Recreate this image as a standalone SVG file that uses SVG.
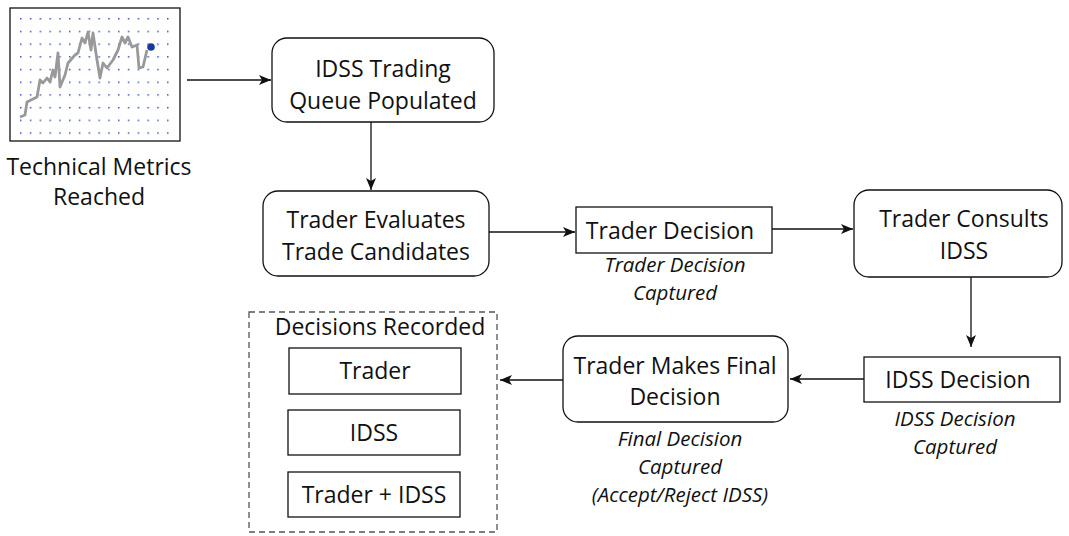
<svg xmlns="http://www.w3.org/2000/svg" width="1069" height="536" viewBox="0 0 1069 536">
<style>
text{font-family:"Open Sans","Liberation Sans",sans-serif;fill:#111;text-anchor:middle}
.t{font-size:23px}
.i{font-size:20.5px;font-style:italic}
.box{fill:#fff;stroke:#111;stroke-width:1.3}
.c{stroke:#111;stroke-width:1.3;fill:none;marker-end:url(#ah)}
</style>
<defs>
<marker id="ah" viewBox="0 0 12 10" refX="12" refY="5" markerWidth="12" markerHeight="10" markerUnits="userSpaceOnUse" orient="auto">
<path d="M0,0 L12,5 L0,10 L3,5 Z" fill="#111"/>
</marker>
<pattern id="dots" x="20" y="18" width="9.8" height="12.7" patternUnits="userSpaceOnUse">
<rect x="0" y="0" width="1.5" height="1.5" fill="#3355bb"/>
</pattern>
</defs>
<g id="chart">
<rect x="10" y="8" width="170" height="133" fill="#fff" stroke="#111" stroke-width="1.3"/>
<rect x="19" y="17" width="155" height="122" fill="url(#dots)"/>
<polyline fill="none" stroke="#999" stroke-width="2.8" stroke-linejoin="round" points="20,117 25,115 27,102 37,97 40,80 43,83 47,78 50,82 53,70 55,77 58,53 60,87 65,75 68,63 75,55 78,53 82,38 85,43 88,32 91,50 93,33 97,60 100,78 103,63 107,68 113,60 118,50 122,37 125,43 128,37 132,47 137,45 139,68 143,67 147,50"/>
<circle cx="151" cy="47" r="3.8" fill="#1a3a99"/>
<text class="t" x="99" y="175">Technical Metrics</text>
<text class="t" x="99" y="205">Reached</text>
</g>
<g id="queue">
<rect class="box" x="272" y="38" width="222" height="84" rx="15"/>
<text class="t" x="383" y="77">IDSS Trading</text>
<text class="t" x="383" y="109">Queue Populated</text>
</g>
<g id="evaluate">
<rect class="box" x="263" y="191" width="226" height="85" rx="15"/>
<text class="t" x="376" y="228">Trader Evaluates</text>
<text class="t" x="376" y="260">Trade Candidates</text>
</g>
<g id="traderDecision">
<rect class="box" x="576" y="207" width="196" height="46"/>
<text class="t" x="670" y="239">Trader Decision</text>
<text class="i" x="675" y="272">Trader Decision</text>
<text class="i" x="675" y="300">Captured</text>
</g>
<g id="consult">
<rect class="box" x="854" y="190" width="208" height="87" rx="15"/>
<text class="t" x="964" y="227">Trader Consults</text>
<text class="t" x="964" y="259">IDSS</text>
</g>
<g id="idssDecision">
<rect class="box" x="864" y="357" width="196" height="45"/>
<text class="t" x="958" y="388">IDSS Decision</text>
<text class="i" x="955" y="426">IDSS Decision</text>
<text class="i" x="955" y="454">Captured</text>
</g>
<g id="final">
<rect class="box" x="563" y="336" width="225" height="86" rx="15"/>
<text class="t" x="675" y="374">Trader Makes Final</text>
<text class="t" x="675" y="405">Decision</text>
<text class="i" x="680" y="446">Final Decision</text>
<text class="i" x="680" y="474">Captured</text>
<text class="i" x="680" y="502">(Accept/Reject IDSS)</text>
</g>
<g id="recorded">
<rect x="249" y="312" width="248" height="220" fill="none" stroke="#555" stroke-width="1.3" stroke-dasharray="6,4"/>
<text class="t" x="380" y="335">Decisions Recorded</text>
<rect class="box" x="289" y="348" width="172" height="46"/>
<text class="t" x="375" y="379">Trader</text>
<rect class="box" x="288" y="410" width="172" height="45"/>
<text class="t" x="374" y="441">IDSS</text>
<rect class="box" x="288" y="472" width="172" height="45"/>
<text class="t" x="374" y="503">Trader + IDSS</text>
</g>
<g id="connectors">
<line class="c" x1="187" y1="80" x2="271" y2="80"/>
<line class="c" x1="371" y1="122" x2="371" y2="190"/>
<line class="c" x1="489" y1="232" x2="575" y2="232"/>
<line class="c" x1="772" y1="229" x2="853" y2="229"/>
<line class="c" x1="971" y1="277" x2="971" y2="347"/>
<line class="c" x1="864" y1="379" x2="790" y2="379"/>
<line class="c" x1="563" y1="380" x2="500" y2="380"/>
</g>
</svg>
